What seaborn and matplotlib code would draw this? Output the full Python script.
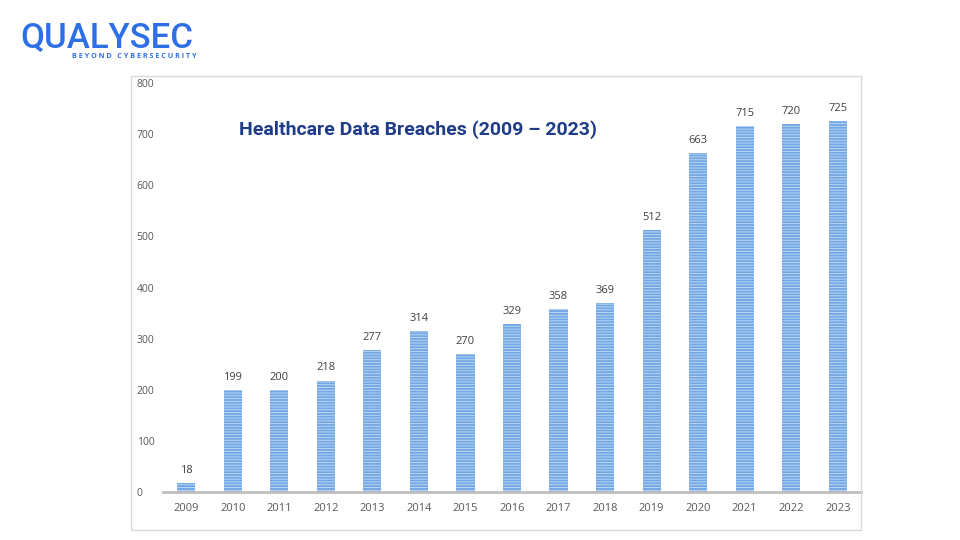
import matplotlib
matplotlib.use("Agg")
import matplotlib.pyplot as plt
import seaborn as sns
import pandas as pd
from matplotlib.patches import Rectangle

years = ["2009", "2010", "2011", "2012", "2013", "2014", "2015", "2016",
         "2017", "2018", "2019", "2020", "2021", "2022", "2023"]
breaches = [18, 199, 200, 218, 277, 314, 270, 329, 358, 369, 512, 663, 715, 720, 725]
y_ticks = [0, 100, 200, 300, 400, 500, 600, 700, 800]

sns.set_style("white")
plt.rcParams["font.family"] = ["Open Sans", "DejaVu Sans"]
plt.rcParams["hatch.linewidth"] = 0.7

df = pd.DataFrame({"Year": years, "Breaches": breaches})

fig = plt.figure(figsize=(9.6, 5.4), dpi=100)
fig.patches.append(Rectangle((131 / 960, 1 - 530 / 540), 730 / 960, 454 / 540,
                             transform=fig.transFigure, fill=False,
                             edgecolor="#d9d9d9", linewidth=1.0))
ax = fig.add_axes([163 / 960, 48 / 540, 698 / 960, 409 / 540])

sns.barplot(data=df, x="Year", y="Breaches", ax=ax, color="#72a7e3",
            width=0.39, saturation=1)
for p in ax.patches:
    p.set_hatch("------")
    p.set_edgecolor("#b9d5f3")
    p.set_linewidth(0.0)

for i, v in enumerate(breaches):
    ax.text(i, v + 14, str(v), ha="center", va="bottom", fontsize=8, color="#404040")

ax.set_xlim(-0.5, 14.5)
ax.set_ylim(0, 800)
ax.set_yticks(y_ticks)
ax.set_yticklabels([str(t) for t in y_ticks], ha="left", fontsize=7.5, color="#595959")
ax.tick_params(axis="y", length=0, pad=19)
ax.tick_params(axis="x", length=0, pad=8, labelsize=8, labelcolor="#595959")
ax.set_xlabel("")
ax.set_ylabel("")
for s in ["top", "right", "left"]:
    ax.spines[s].set_visible(False)
ax.spines["bottom"].set_color("#bfbfbf")
ax.spines["bottom"].set_linewidth(2)

fig.text(418 / 960, 1 - 130 / 540, "Healthcare Data Breaches (2009 \u2013 2023)",
         ha="center", va="center", fontsize=14, fontweight="bold", color="#1f3c88",
         family=["Roboto", "DejaVu Sans"])

# logo
fig.text(20 / 960, 1 - 38 / 540, "QUALYSEC", ha="left", va="center",
         fontsize=25, fontweight="medium", color="#2f6fe6", family=["Roboto", "DejaVu Sans"])
fig.text(134 / 960, 1 - 57 / 540, "B E Y O N D   C Y B E R S E C U R I T Y", ha="center",
         va="center", fontsize=5.2, fontweight="bold", color="#2f6fe6")

fig.savefig("out.png", dpi=100)
